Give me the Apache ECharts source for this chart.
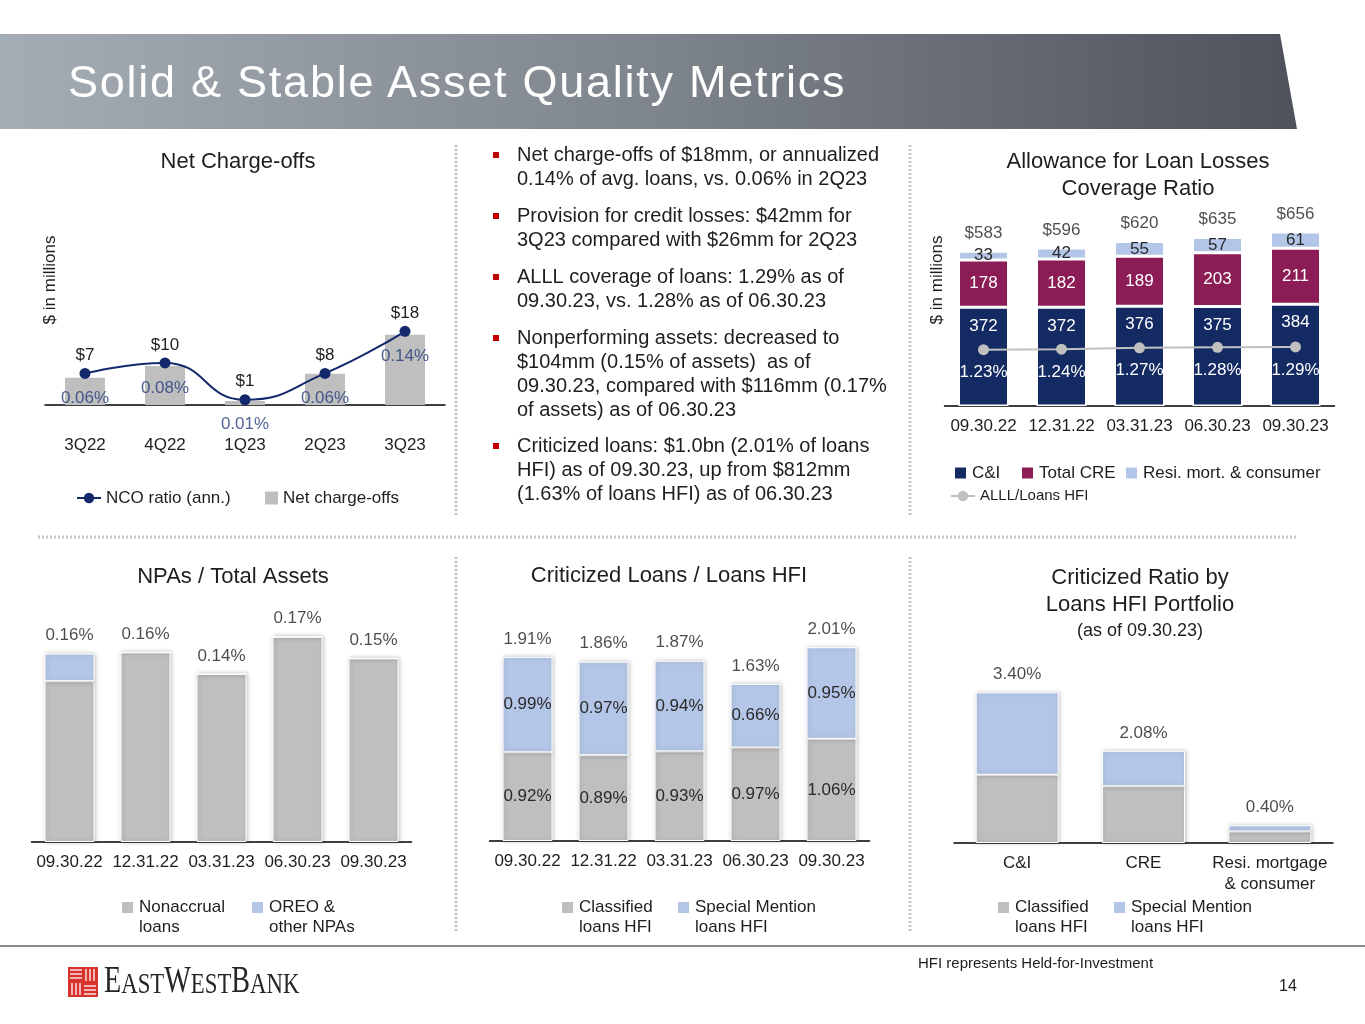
<!DOCTYPE html>
<html><head><meta charset="utf-8">
<script src="https://cdn.jsdelivr.net/npm/echarts/dist/echarts.min.js"></script>
<style>
html,body{margin:0;padding:0;background:#fff;}
#wrap{position:relative;width:1365px;height:1024px;overflow:hidden;}
#chart{position:absolute;left:0;top:0;width:1365px;height:1024px;}
#title{position:absolute;left:68px;top:57px;font-family:'Liberation Sans',Arial,sans-serif;font-size:45px;line-height:50px;color:#fff;letter-spacing:1.75px;white-space:nowrap;}
</style></head>
<body><div id="wrap"><div id="chart"></div><div id="title">Solid &amp; Stable Asset Quality Metrics</div></div>
<script>
// ---------- data ----------
const ncoQuarters = ['3Q22', '4Q22', '1Q23', '2Q23', '3Q23'];
const ncoAmounts = [7, 10, 1, 8, 18];
const ncoRatio = [0.06, 0.08, 0.01, 0.06, 0.14];

const quarterEnds = ['09.30.22', '12.31.22', '03.31.23', '06.30.23', '09.30.23'];
const alllCI = [372, 372, 376, 375, 384];
const alllCRE = [178, 182, 189, 203, 211];
const alllResi = [33, 42, 55, 57, 61];
const alllTotal = [583, 596, 620, 635, 656];
const alllRatio = [1.23, 1.24, 1.27, 1.28, 1.29];

const npaNonaccrual = [0.134, 0.158, 0.140, 0.171, 0.153];
const npaOreo = [0.023, 0, 0, 0, 0];
const npaTotalLabels = ['0.16%', '0.16%', '0.14%', '0.17%', '0.15%'];

const critClassified = [0.92, 0.89, 0.93, 0.97, 1.06];
const critSpecial = [0.99, 0.97, 0.94, 0.66, 0.95];
const critTotal = [1.91, 1.86, 1.87, 1.63, 2.01];

const portfolioCats = ['C&I', 'CRE', 'Resi. mortgage\n& consumer'];
const portfolioClassified = [1.54, 1.28, 0.26];
const portfolioSpecial = [1.86, 0.80, 0.14];
const portfolioTotal = [3.40, 2.08, 0.40];

const bulletParagraphs = [
  'Net charge-offs of $18mm, or annualized\n0.14% of avg. loans, vs. 0.06% in 2Q23',
  'Provision for credit losses: $42mm for\n3Q23 compared with $26mm for 2Q23',
  'ALLL coverage of loans: 1.29% as of\n09.30.23, vs. 1.28% as of 06.30.23',
  'Nonperforming assets: decreased to\n$104mm (0.15% of assets)  as of\n09.30.23, compared with $116mm (0.17%\nof assets) as of 06.30.23',
  'Criticized loans: $1.0bn (2.01% of loans\nHFI) as of 09.30.23, up from $812mm\n(1.63% of loans HFI) as of 06.30.23'
];

// ---------- styles ----------
const FONT = 'Liberation Sans, Arial, sans-serif';
const NAVY = '#142a63', MAROON = '#8c1c55', LBLUE = '#b4c6e7', GRAY = '#bfbfbf', TXT = '#1e1e1e';
const pct2 = v => v.toFixed(2) + '%';

function txt(text, x, y, size, extra) {
  return { type: 'text', x: x, y: y, silent: true,
    style: Object.assign({ text: text, fill: TXT, fontSize: size, fontFamily: FONT, align: 'center', verticalAlign: 'middle' }, extra || {}) };
}
function dotted(x1, y1, x2, y2) {
  return { type: 'line', silent: true, shape: { x1: x1, y1: y1, x2: x2, y2: y2 },
    style: { stroke: '#c4c4c4', lineWidth: 3, lineDash: [2, 2] } };
}
function xAx(grid, data, margin, extra) {
  return Object.assign({ type: 'category', gridIndex: grid, data: data,
    axisLine: { lineStyle: { color: '#000', width: 1.5 } }, axisTick: { show: false },
    axisLabel: { color: TXT, fontSize: 17, margin: margin, interval: 0, fontFamily: FONT } }, extra || {});
}
function yAx(grid, max, extra) {
  return Object.assign({ type: 'value', gridIndex: grid, min: 0, max: max,
    axisLine: { show: false }, axisTick: { show: false }, axisLabel: { show: false }, splitLine: { show: false } }, extra || {});
}
function lg(name, left, top, opts) {
  opts = opts || {};
  const o = { data: [name], left: left, top: top, padding: 0, itemGap: 0, itemWidth: 13, itemHeight: 13,
    selectedMode: false, textStyle: { fontSize: opts.fontSize || 17, color: TXT, fontFamily: FONT } };
  if (!opts.line) o.icon = 'rect'; else o.itemWidth = 24;
  if (opts.twoLine) {
    o.textStyle.lineHeight = 20;
    o.formatter = n => ' \n' + n;   // blank first line so the icon sits beside the first text line
  }
  return o;
}
function totalLabels(xi, yi, data, fmt) {
  return { type: 'scatter', xAxisIndex: xi, yAxisIndex: yi, data: data, symbolSize: 1, silent: true, z: 5,
    itemStyle: { color: 'rgba(0,0,0,0)' },
    label: { show: true, position: 'top', distance: 9, color: TXT, fontSize: 17, fontFamily: FONT, formatter: fmt } };
}
const shadow = { shadowBlur: 4, shadowColor: 'rgba(0,0,0,0.22)', shadowOffsetX: 1 };

// ---------- graphics (banner, texts, dividers, footer) ----------
const graphics = [
  { type: 'polygon', silent: true, shape: { points: [[0, 34], [1280, 34], [1297, 129], [0, 129]] },
    style: { fill: { type: 'linear', x: 0, y: 0, x2: 1, y2: 0, colorStops: [
      { offset: 0, color: '#a4acb4' }, { offset: 0.5, color: '#7f858d' }, { offset: 1, color: '#4e535b' }] } } },
  txt('Net Charge-offs', 238, 162, 22),
  txt('Allowance for Loan Losses', 1138, 162, 22),
  txt('Coverage Ratio', 1138, 189, 22),
  txt('NPAs / Total Assets', 233, 577, 22),
  txt('Criticized Loans / Loans HFI', 669, 576, 22),
  txt('Criticized Ratio by', 1140, 578, 22),
  txt('Loans HFI Portfolio', 1140, 605, 22),
  txt('(as of 09.30.23)', 1140, 631, 18),
  dotted(456, 145, 456, 517), dotted(910, 145, 910, 517),
  dotted(38, 537, 1297, 537),
  dotted(456, 557, 456, 932), dotted(910, 557, 910, 932),
  { type: 'line', silent: true, shape: { x1: 0, y1: 946, x2: 1365, y2: 946 }, style: { stroke: '#8a8a8a', lineWidth: 2 } },
  txt('HFI represents Held-for-Investment', 918, 964, 15, { align: 'left' }),
  txt('14', 1288, 987, 16),
  // logo
  { type: 'rect', silent: true, shape: { x: 68, y: 967, width: 30, height: 30 }, style: { fill: '#d8322c' } },
  { type: 'text', x: 104, y: 982, scaleX: 0.76, silent: true, style: {
      text: '{b|E}{s|AST}{b|W}{s|EST}{b|B}{s|ANK}', verticalAlign: 'middle', align: 'left',
      rich: { b: { fontSize: 37, fontFamily: 'Liberation Serif, serif', fill: '#262626', verticalAlign: 'bottom' },
              s: { fontSize: 30, fontFamily: 'Liberation Serif, serif', fill: '#262626', verticalAlign: 'bottom' } } } }
];
// logo stripes (pinwheel of white lines)
function wl(x1, y1, x2, y2) {
  graphics.push({ type: 'line', silent: true, shape: { x1: x1, y1: y1, x2: x2, y2: y2 }, style: { stroke: '#fff', lineWidth: 1.3 } });
}
[970, 974, 978].forEach(y => wl(70, y, 82, y));            // top-left horizontal
[86, 90, 94].forEach(x => wl(x, 969, x, 981));             // top-right vertical
[72, 76, 80].forEach(x => wl(x, 983, x, 995));             // bottom-left vertical
[986, 990, 994].forEach(y => wl(84, y, 96, y));            // bottom-right horizontal
// bullets
const bulletTops = [155, 216, 277, 338, 446];
bulletParagraphs.forEach(function (p, i) {
  const c = bulletTops[i];
  graphics.push({ type: 'rect', silent: true, shape: { x: 493, y: c - 3, width: 6, height: 6 }, style: { fill: '#c00000' } });
  graphics.push({ type: 'text', x: 517, y: c - 12, silent: true,
    style: { text: p, fill: TXT, fontSize: 20, lineHeight: 24, fontFamily: FONT, align: 'left', verticalAlign: 'top' } });
});

// ---------- option ----------
const option = {
  animation: false,
  backgroundColor: '#fff',
  textStyle: { fontFamily: FONT },
  graphic: graphics,
  grid: [
    { left: 45, top: 155, width: 400, height: 250, outerBoundsMode: 'none' },
    { left: 944.5, top: 154, width: 390, height: 252, outerBoundsMode: 'none' },
    { left: 31.5, top: 602, width: 380, height: 240, outerBoundsMode: 'none' },
    { left: 489.5, top: 600, width: 380, height: 241, outerBoundsMode: 'none' },
    { left: 954, top: 648, width: 379, height: 195, outerBoundsMode: 'none' }
  ],
  xAxis: [
    xAx(0, ncoQuarters, 32),
    xAx(1, quarterEnds, 11.5),
    xAx(2, quarterEnds, 12),
    xAx(3, quarterEnds, 12),
    xAx(4, portfolioCats, 11.5, { axisLabel: { color: TXT, fontSize: 17, margin: 10, interval: 0, lineHeight: 21, fontFamily: FONT } })
  ],
  yAxis: [
    yAx(0, 64, { name: '$ in millions', nameLocation: 'middle', nameGap: -13.5, nameTextStyle: { fontSize: 17, color: TXT, fontFamily: FONT } }),
    yAx(0, 0.475, { show: false }),
    yAx(1, 950, { name: '$ in millions', nameLocation: 'middle', nameGap: -1.5, nameTextStyle: { fontSize: 17, color: TXT, fontFamily: FONT } }),
    yAx(1, 5.5, { show: false }),
    yAx(2, 0.2, { show: false }),
    yAx(3, 2.5, { show: false }),
    yAx(4, 4.4, { show: false })
  ],
  legend: [
    lg('NCO ratio (ann.)', 76, 489.5, { line: true }),
    lg('Net charge-offs', 265, 489.5),
    lg('C&I', 953, 464.5),
    lg('Total CRE', 1020, 464.5),
    lg('Resi. mort. & consumer', 1124, 464.5),
    lg('ALLL/Loans HFI', 950, 488.5, { line: true, fontSize: 15 }),
    lg('Nonaccrual\nloans', 120, 877.5, { twoLine: true }),
    lg('OREO &\nother NPAs', 250, 877.5, { twoLine: true }),
    lg('Classified\nloans HFI', 560, 877.5, { twoLine: true }),
    lg('Special Mention\nloans HFI', 676, 877.5, { twoLine: true }),
    lg('Classified\nloans HFI', 996, 877.5, { twoLine: true }),
    lg('Special Mention\nloans HFI', 1112, 877.5, { twoLine: true })
  ],
  series: [
    // Net charge-offs
    { type: 'bar', name: 'Net charge-offs', xAxisIndex: 0, yAxisIndex: 0, data: ncoAmounts, barWidth: 40,
      itemStyle: { color: GRAY } },
    { type: 'line', name: 'NCO ratio (ann.)', xAxisIndex: 0, yAxisIndex: 1, data: ncoRatio, smooth: true,
      symbol: 'circle', symbolSize: 11, z: 4, itemStyle: { color: '#13296b' }, lineStyle: { color: '#13296b', width: 2 },
      label: { show: true, position: 'top', distance: 4, color: TXT, fontSize: 17, fontFamily: FONT,
        formatter: p => '$' + ncoAmounts[p.dataIndex] } },
    { type: 'scatter', name: 'ncoRatioLabels', xAxisIndex: 0, yAxisIndex: 1, data: ncoRatio, symbolSize: 11, silent: true, z: 5,
      itemStyle: { color: 'rgba(0,0,0,0)' },
      label: { show: true, position: 'bottom', distance: 11, color: '#22397a', fontSize: 17, fontFamily: FONT,
        formatter: p => pct2(ncoRatio[p.dataIndex]) } },
    // ALLL
    { type: 'bar', name: 'C&I', xAxisIndex: 1, yAxisIndex: 2, stack: 'alll', data: alllCI, barWidth: 50,
      itemStyle: { color: NAVY, borderColor: '#fff', borderWidth: 1.5 },
      label: { show: true, position: 'insideTop', distance: 10, color: '#fff', fontSize: 17, fontFamily: FONT } },
    { type: 'bar', name: 'Total CRE', xAxisIndex: 1, yAxisIndex: 2, stack: 'alll', data: alllCRE,
      itemStyle: { color: MAROON, borderColor: '#fff', borderWidth: 1.5 },
      label: { show: true, position: 'inside', color: '#fff', fontSize: 17, fontFamily: FONT } },
    { type: 'bar', name: 'Resi. mort. & consumer', xAxisIndex: 1, yAxisIndex: 2, stack: 'alll', data: alllResi,
      itemStyle: { color: LBLUE, borderColor: '#fff', borderWidth: 1.5 },
      label: { show: true, position: 'inside', color: '#2a2a2a', fontSize: 17, fontFamily: FONT } },
    totalLabels(1, 2, alllTotal, p => '$' + alllTotal[p.dataIndex]),
    { type: 'line', name: 'ALLL/Loans HFI', xAxisIndex: 1, yAxisIndex: 3, data: alllRatio, symbol: 'circle', symbolSize: 11, z: 4,
      itemStyle: { color: '#c0c0c0' }, lineStyle: { color: '#c0c0c0', width: 2 },
      label: { show: true, position: 'bottom', distance: 9, color: '#fff', fontSize: 17, fontFamily: FONT,
        formatter: p => pct2(alllRatio[p.dataIndex]) } },
    // NPAs
    { type: 'bar', name: 'Nonaccrual\nloans', xAxisIndex: 2, yAxisIndex: 4, stack: 'npa', data: npaNonaccrual, barWidth: 50,
      itemStyle: Object.assign({ color: GRAY, borderColor: '#fff', borderWidth: 1 }, shadow) },
    { type: 'bar', name: 'OREO &\nother NPAs', xAxisIndex: 2, yAxisIndex: 4, stack: 'npa', data: npaOreo,
      itemStyle: Object.assign({ color: LBLUE, borderColor: '#fff', borderWidth: 1 }, shadow) },
    totalLabels(2, 4, npaNonaccrual.map((v, i) => v + npaOreo[i]), p => npaTotalLabels[p.dataIndex]),
    // Criticized loans
    { type: 'bar', name: 'Classified\nloans HFI', xAxisIndex: 3, yAxisIndex: 5, stack: 'crit', data: critClassified, barWidth: 50,
      itemStyle: Object.assign({ color: GRAY, borderColor: '#fff', borderWidth: 1 }, shadow),
      label: { show: true, position: 'inside', color: '#2a2a2a', fontSize: 17, fontFamily: FONT, formatter: p => pct2(critClassified[p.dataIndex]) } },
    { type: 'bar', name: 'Special Mention\nloans HFI', xAxisIndex: 3, yAxisIndex: 5, stack: 'crit', data: critSpecial,
      itemStyle: Object.assign({ color: LBLUE, borderColor: '#fff', borderWidth: 1 }, shadow),
      label: { show: true, position: 'inside', color: '#2a2a2a', fontSize: 17, fontFamily: FONT, formatter: p => pct2(critSpecial[p.dataIndex]) } },
    totalLabels(3, 5, critTotal, p => pct2(critTotal[p.dataIndex])),
    // Criticized ratio by portfolio
    { type: 'bar', name: 'Classified\nloans HFI', xAxisIndex: 4, yAxisIndex: 6, stack: 'port', data: portfolioClassified, barWidth: 83,
      itemStyle: Object.assign({ color: GRAY, borderColor: '#fff', borderWidth: 1 }, shadow) },
    { type: 'bar', name: 'Special Mention\nloans HFI', xAxisIndex: 4, yAxisIndex: 6, stack: 'port', data: portfolioSpecial,
      itemStyle: Object.assign({ color: LBLUE, borderColor: '#fff', borderWidth: 1 }, shadow) },
    totalLabels(4, 6, portfolioTotal, p => pct2(portfolioTotal[p.dataIndex]))
  ]
};

const chart = echarts.init(document.getElementById('chart'));
chart.setOption(option);
</script>
</body></html>
